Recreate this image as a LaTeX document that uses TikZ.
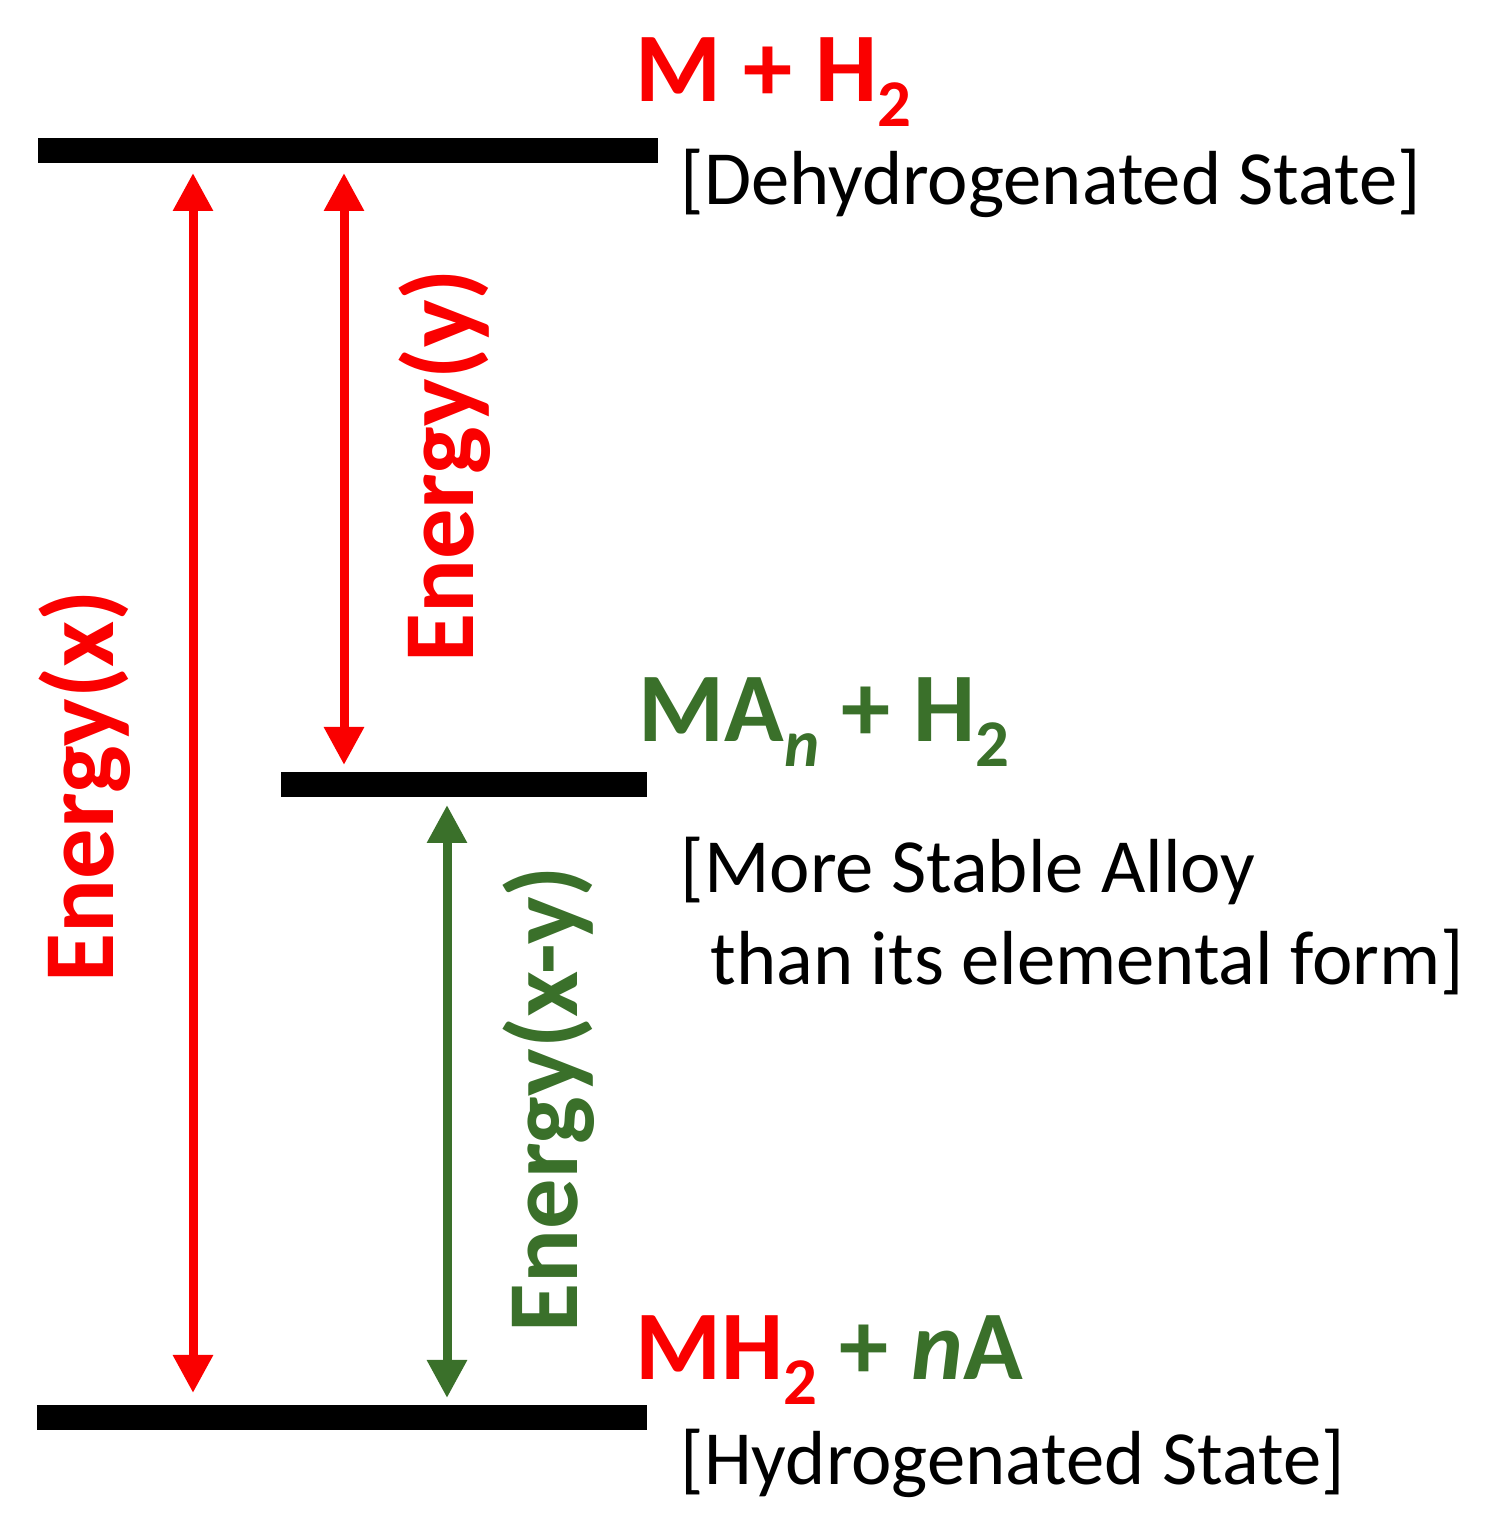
\documentclass[tikz,border=0pt]{standalone}
\usepackage{fontspec}
\setmainfont{Carlito}
\usepackage{xcolor}
\usepackage{tikz}
\usetikzlibrary{arrows.meta}
\definecolor{hred}{RGB}{250,0,0}
\definecolor{hgreen}{RGB}{58,112,42}
\tikzstyle{level}=[line width=0.25cm,black]
\tikzstyle{gap}=[line width=0.09cm,{Triangle[width=0.38cm,length=0.38cm]}-{Triangle[width=0.38cm,length=0.38cm]}]
\tikzstyle{species}=[anchor=base west,inner sep=0pt,font=\fontsize{28}{30}\selectfont\bfseries]
\tikzstyle{state}=[anchor=base west,inner sep=0pt,font=\fontsize{21.8}{24}\selectfont]
\tikzstyle{energy}=[anchor=base,rotate=90,inner sep=0pt,font=\fontsize{28.6}{30}\selectfont\bfseries]
\newcommand{\chemsub}[1]{\raisebox{-0.25cm}{\fontsize{19}{20}\selectfont #1}}

\begin{document}
\begin{tikzpicture}
        \useasboundingbox (0,0) rectangle (15,15.32);
        % energy levels
        \coordinate (topL) at (0.38,13.81);
        \coordinate (topR) at (6.58,13.81);
        \coordinate (midL) at (2.81,7.47);
        \coordinate (midR) at (6.47,7.47);
        \coordinate (botL) at (0.37,1.14);
        \coordinate (botR) at (6.47,1.14);
        \draw [level] (topL) -- (topR);
        \draw [level] (midL) -- (midR);
        \draw [level] (botL) -- (botR);
        % arrow ends
        \coordinate (xtop) at (1.93,13.59);
        \coordinate (xbot) at (1.93,1.39);
        \coordinate (ytop) at (3.44,13.59);
        \coordinate (ybot) at (3.44,7.67);
        \coordinate (xytop) at (4.47,7.27);
        \coordinate (xybot) at (4.47,1.34);
        \draw [gap,hred] (xtop) -- (xbot);
        \draw [gap,hred] (ytop) -- (ybot);
        \draw [gap,hgreen] (xytop) -- (xybot);
        \node at (1.13,7.46) [energy,hred] (ex) {Energy(x)};
        \node at (4.73,10.66) [energy,hred] (ey) {Energy(y)};
        \node at (5.77,4.33) [energy,hgreen] (exy) {Energy(x-y)};
        % species and states
        \node at (6.35,14.30) [species,hred] (dehyd) {M + H\chemsub{2}};
        \node at (6.80,13.27) [state] (dehydtxt) {[Dehydrogenated State]};
        \node at (6.38,7.90) [species,hgreen] (alloy) {MA\chemsub{\itshape n} + H\chemsub{2}};
        \node at (6.80,6.39) [state] (alloytxt) {[More Stable Alloy};
        \node at (7.10,5.47) [state] (alloytxt2) {than its elemental form]};
        \node at (6.35,1.52) [species,hred] (hyd) {MH\chemsub{2}\textcolor{hgreen}{~+ \textit{n}A}};
        \node at (6.80,0.47) [state] (hydtxt) {[Hydrogenated State]};
      \end{tikzpicture}
\end{document}
